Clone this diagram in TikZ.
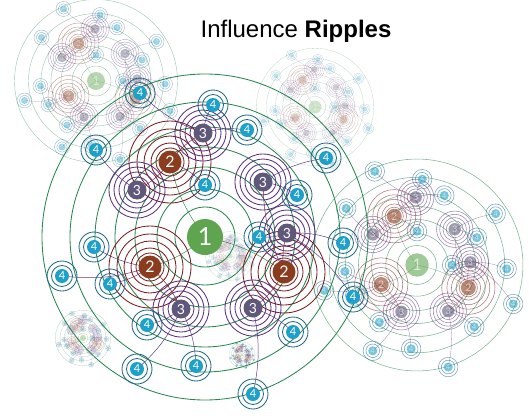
\documentclass[tikz,border=0pt]{standalone}
\usepackage{fontspec}
\setmainfont{Liberation Sans}
\newfontfamily\digitfont{Lato}

\definecolor{ripgreen}{RGB}{40,135,80}
\definecolor{fillgreen}{RGB}{95,165,80}
\definecolor{ripred}{RGB}{125,30,30}
\definecolor{fillred}{RGB}{140,60,30}
\definecolor{rippurple}{RGB}{90,50,130}
\definecolor{fillpurple}{RGB}{95,88,122}
\definecolor{ripteal}{RGB}{30,105,135}
\definecolor{fillblue}{RGB}{30,160,200}

\tikzset{
  ripple1/.style={draw=ripgreen},
  ripple2/.style={draw=ripred},
  ripple3/.style={draw=rippurple},
  ripple4/.style={draw=ripteal},
  link/.style={line width={0.55*\lw pt}},
  disc/.style={circle, inner sep=0pt, text=white},
  disc1/.style={disc, fill=fillgreen, minimum size=36pt, font=\digitfont\fontsize{25}{25}\selectfont},
  disc2/.style={disc, fill=fillred, minimum size=23pt, font=\digitfont\fontsize{16}{16}\selectfont},
  disc3/.style={disc, fill=fillpurple, minimum size=19pt, font=\digitfont\fontsize{14}{14}\selectfont},
  disc4/.style={disc, fill=fillblue, minimum size=14pt, font=\digitfont\fontsize{11}{11}\selectfont},
}

% layout of one cluster, offsets from node 1
\def\twolist{a/-35/-75, b/-55/30, c/79/35}
\def\threelist{a/-2/-104/2a, b/-68/-47/2a, c/58/-55/2c, d/82/-4/2c, e/-24/72/2b, f/48/71/2c}
\def\fourlist{a/-65/-144/3a, b/8/-132/3a, c/42/-107/3a, d/-109/-87/3b, e/121/-79/3c,
  f/0/-52/2a, g/92/-42/3c, h/-111/10/2b, i/54/0/3d, j/138/6/3d, k/-143/39/2b,
  l/-95/47/2b, m/148/60/3d, n/-58/88/3e, o/88/95/3f, p/-68/132/3e, q/-9/129/3e, r/48/157/3f}

% #1 name, #2 centre, #3 scale, #4 opacity
\newcommand\ripplecluster[4]{%
  \pgfmathsetmacro\lw{max(0.3,0.85*#3)}
  \begin{scope}[shift={#2}, scale=#3, opacity=#4, line width=\lw pt]
    % positions
    \coordinate (#1-1) at (0,0);
    \foreach \n/\px/\py in \twolist {\coordinate (#1-2\n) at (\px,\py);}
    \foreach \n/\px/\py/\up in \threelist {\coordinate (#1-3\n) at (\px,\py);}
    \foreach \n/\px/\py/\up in \fourlist {\coordinate (#1-4\n) at (\px,\py);}

    % ripples of 1
    \foreach \r in {30,48,70,90,110,135,163} {\draw[ripple1] (#1-1) circle (\r);}

    % links
    \foreach \n/\px/\py in \twolist {\draw[ripple1, link] (#1-1) to[bend left=12] (#1-2\n);}
    \foreach \n/\px/\py/\up in \threelist {\draw[ripple2, link] (#1-\up) to[bend left=12] (#1-3\n);}
    \foreach \n/\px/\py/\up in \fourlist {\draw[ripple3, link] (#1-\up) to[bend left=12] (#1-4\n);}

    % ripples of 2, 3, 4
    \foreach \n/\px/\py in \twolist {
      \foreach \r in {14,19,26,33,41} {\draw[ripple2] (#1-2\n) circle (\r);}
    }
    \foreach \n/\px/\py/\up in \threelist {
      \foreach \r in {13,18,23,28} {\draw[ripple3] (#1-3\n) circle (\r);}
    }
    \foreach \n/\px/\py/\up in \fourlist {
      \foreach \r in {10.5,15} {\draw[ripple4] (#1-4\n) circle (\r);}
    }

    % nodes
    \node[disc1, scale=#3] (#1-n1) at (#1-1) {1};
    \foreach \n/\px/\py in \twolist {\node[disc2, scale=#3] (#1-n2\n) at (#1-2\n) {2};}
    \foreach \n/\px/\py/\up in \threelist {\node[disc3, scale=#3] (#1-n3\n) at (#1-3\n) {3};}
    \foreach \n/\px/\py/\up in \fourlist {\node[disc4, scale=#3] (#1-n4\n) at (#1-4\n) {4};}
  \end{scope}}

\begin{document}
\begin{tikzpicture}[x=1pt, y=-1pt]
  \useasboundingbox (0,0) rectangle (529,417);

  % faded echoes
  \ripplecluster{tr}{(315,107)}{0.36}{0.3}
  \ripplecluster{tl}{(96,81)}{0.5}{0.45}
  \ripplecluster{bl}{(83,338)}{0.17}{0.35}
  \ripplecluster{sm}{(242,355)}{0.08}{0.3}
  \ripplecluster{mid}{(230,256)}{0.15}{0.25}
  \ripplecluster{rt}{(417,265)}{0.65}{0.6}

  % main cluster
  \ripplecluster{mn}{(205,237)}{1}{1}

  % Title
  \node[font=\fontsize{24}{24}\selectfont] (title) at (296,31) {Influence \textbf{Ripples}};
\end{tikzpicture}
\end{document}
